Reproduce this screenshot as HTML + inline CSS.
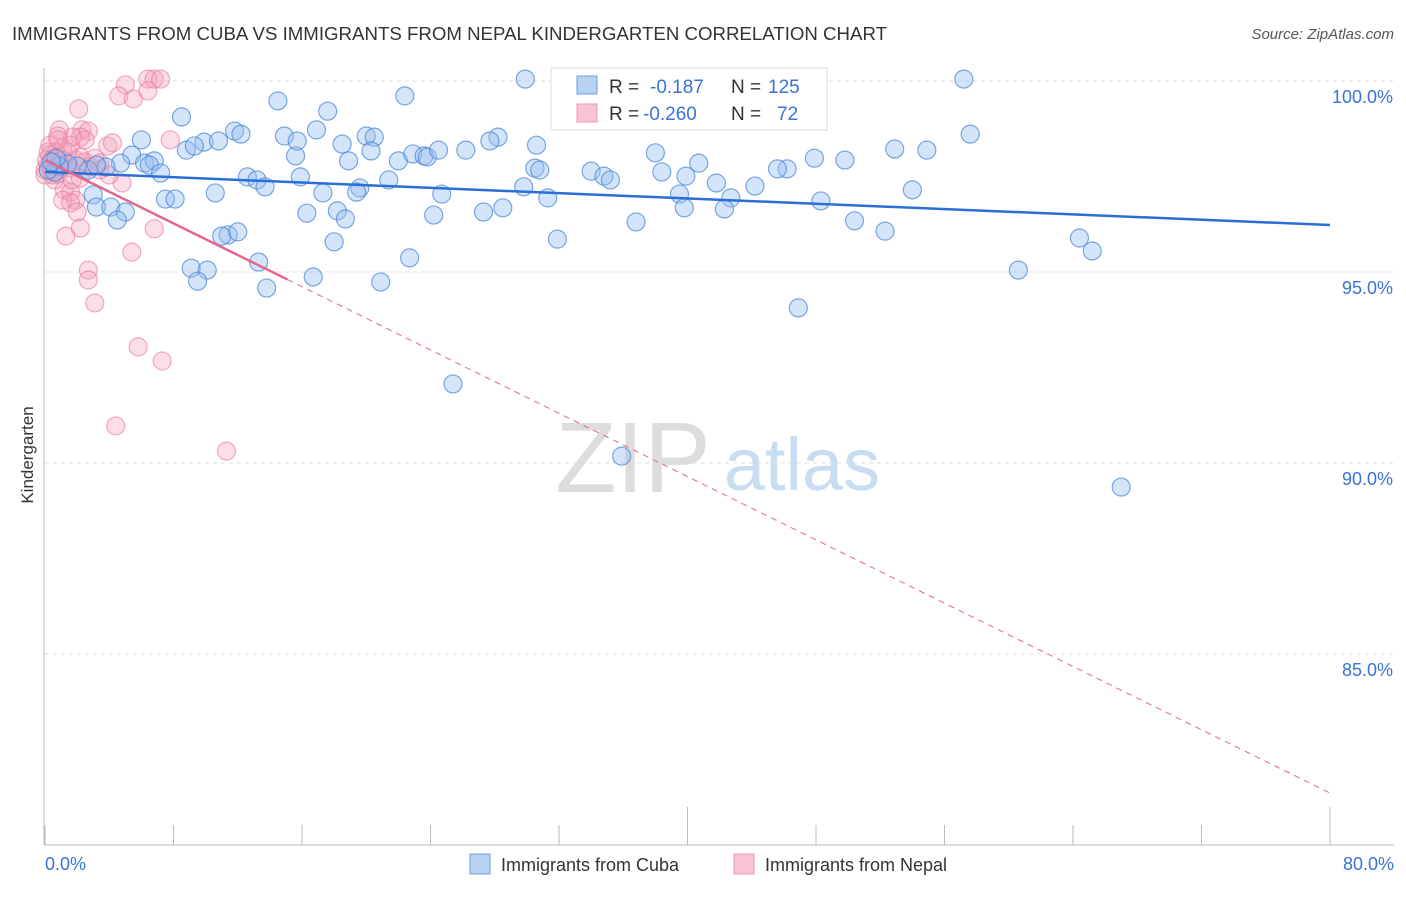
<!DOCTYPE html>
<html><head><meta charset="utf-8"><style>
body{margin:0;background:#fff;font-family:"Liberation Sans",sans-serif;}
svg text{font-family:"Liberation Sans",sans-serif;}
</style></head><body>
<svg id="chart" width="1406" height="892">
<text x="12" y="40" font-size="18.5" fill="#333" textLength="875" lengthAdjust="spacingAndGlyphs">IMMIGRANTS FROM CUBA VS IMMIGRANTS FROM NEPAL KINDERGARTEN CORRELATION CHART</text>
<text x="1394" y="39" font-size="15" fill="#555" font-style="italic" text-anchor="end">Source: ZipAtlas.com</text>
<text x="33" y="455" font-size="17" fill="#333" transform="rotate(-90 33 455)" text-anchor="middle">Kindergarten</text>
<g><text x="633" y="492" font-size="100" font-family="Liberation Serif,serif" fill="#ddd" text-anchor="middle">ZIP</text><text x="802" y="490" font-size="74" fill="#c8dcf2" text-anchor="middle">atlas</text></g>
<g id="grid"></g><g id="axes"></g><g id="marks"></g>
<g>
<rect x="551" y="68" width="276" height="62" fill="#fff" stroke="#ddd"/>
<rect x="577" y="76" width="20" height="18" fill="#b8d2f4" stroke="#6f9ee0"/>
<rect x="577" y="104" width="20" height="18" fill="#f8c4d3" stroke="#ee9ab3"/>
<text x="609" y="93" font-size="19" fill="#333">R =</text><text x="650" y="93" font-size="19" fill="#3a73d6">-0.187</text>
<text x="731" y="93" font-size="19" fill="#333">N =</text><text x="768" y="93" font-size="19" fill="#3a73d6">125</text>
<text x="609" y="120" font-size="19" fill="#333">R =</text><text x="643" y="120" font-size="19" fill="#3a73d6">-0.260</text>
<text x="731" y="120" font-size="19" fill="#333">N =</text><text x="777" y="120" font-size="19" fill="#3a73d6">72</text>
</g>
<g>
<rect x="470" y="854" width="20" height="20" fill="#b8d2f4" stroke="#6f9ee0"/>
<text x="501" y="871" font-size="18" fill="#333">Immigrants from Cuba</text>
<rect x="734" y="854" width="20" height="20" fill="#f8c4d3" stroke="#ee9ab3"/>
<text x="765" y="871" font-size="18" fill="#333">Immigrants from Nepal</text>
</g>
</svg>
<script>
const cubaX=[29.9,57.2,36.2,14.5,22.4,8.5,17.6,57.6,11.8,12.2,14.9,16.9,20.0,20.5,28.2,27.7,6.0,9.9,10.8,5.4,8.8,9.3,15.6,15.7,18.5,18.9,20.3,22.0,22.9,23.6,23.8,24.5,26.2,30.6,30.5,30.8,33.4,38.0,40.7,46.2,47.9,49.8,52.9,54.9,6.2,6.8,6.5,7.2,4.7,3.8,2.7,2.0,1.4,0.9,0.6,12.6,13.2,13.7,15.9,17.3,19.6,19.4,21.4,24.7,29.8,31.3,34.0,34.8,35.2,38.4,39.9,39.5,41.8,42.7,44.2,45.6,48.3,54.0,3.0,3.2,4.1,5.0,4.5,7.5,8.1,10.6,16.3,18.2,18.7,24.2,27.3,28.5,36.8,39.8,42.3,50.4,52.3,64.4,65.2,11.4,11.0,12.0,18.0,31.9,9.1,10.1,9.5,13.3,13.8,16.7,20.9,22.7,60.6,46.9,25.4,35.9,67.0,3.2,0.7,0.2,0.4];
const cubaY=[100.05,100.05,100.05,99.48,99.61,99.06,99.21,98.61,98.69,98.61,98.56,98.72,98.56,98.53,98.53,98.43,98.46,98.40,98.43,98.06,98.19,98.30,98.04,98.43,98.35,97.91,98.17,97.91,98.09,98.04,98.01,98.19,98.19,98.32,97.72,97.67,98.98,98.12,97.85,97.70,97.98,97.93,98.22,98.19,97.85,97.91,97.80,97.59,97.85,97.75,97.67,97.77,97.83,97.77,97.62,97.49,97.41,97.23,97.49,97.07,97.20,97.09,97.41,97.04,97.23,96.94,97.64,97.51,97.41,97.62,97.51,97.04,97.33,96.94,97.25,97.70,96.86,97.15,97.02,96.70,96.70,96.57,96.36,96.91,96.91,97.07,96.54,96.60,96.39,96.49,96.57,96.68,96.31,96.68,96.65,96.34,96.07,95.89,95.55,95.97,95.94,96.05,95.79,95.86,95.10,95.05,94.76,95.26,94.58,94.87,94.74,95.37,95.05,94.06,92.07,90.18,89.37,97.80,97.98,97.67,97.88];
const nepalX=[5.0,6.4,6.8,7.2,4.6,5.5,6.4,2.1,0.9,2.3,2.7,2.2,1.7,0.8,1.1,0.3,1.6,3.9,4.2,7.8,0.7,0.4,0.2,0.0,0.5,0.9,1.2,1.6,1.9,2.2,2.5,2.8,3.1,3.4,0.6,1.2,1.6,1.9,1.1,1.6,2.0,2.2,1.3,2.7,2.7,3.1,5.8,7.3,4.4,11.3,5.4,6.8,4.8,4.0,0.7,0.3,0.1,0.6,0.9,0.0,0.4,0.8,1.1,1.4,2.5,0.8,0.2,3.4,1.7,2.2];
const nepalY=[99.90,100.05,100.05,100.05,99.61,99.53,99.74,99.27,98.72,98.72,98.69,98.53,98.53,98.56,98.25,98.32,98.32,98.30,98.38,98.46,98.14,97.93,97.80,97.67,97.54,97.67,97.80,97.72,97.93,98.01,97.88,97.75,97.98,97.67,97.41,97.15,97.09,96.88,96.88,96.81,96.57,96.15,95.94,95.05,94.79,94.19,93.04,92.67,90.97,90.31,95.52,96.13,97.33,97.54,97.80,98.06,97.93,97.98,97.88,97.54,97.67,97.57,97.93,98.14,98.46,98.46,98.14,97.85,97.41,97.46];
const cubaTrend=[97.62,96.23];
const nepalTrend=[97.93,81.36];
const nepalSolidEnd=15.1;
const yTicks=[100,95,90,85];
const xTickVals=[0,8,16,24,32,40,48,56,64,72,80];

const NS='http://www.w3.org/2000/svg';
const X=v=>45+v/80*1285;
const Y=v=>81+(100-v)*38.2;
function mk(tag,attrs,parent){const e=document.createElementNS(NS,tag);for(const k in attrs)e.setAttribute(k,attrs[k]);parent.appendChild(e);return e;}
const grid=document.getElementById('grid'),axes=document.getElementById('axes'),marks=document.getElementById('marks');
yTicks.forEach(t=>{
  const l=mk('line',{x1:45,x2:1394,y1:Y(t),y2:Y(t),stroke:'#ddd','stroke-dasharray':'4,4'},grid);
  
  
  const tx=mk('text',{x:1393,y:Y(t)+22,'font-size':18,fill:'#3a73d6','text-anchor':'end'},axes);
  tx.textContent=t.toFixed(1)+'%';
  
  
});
mk('line',{x1:44,x2:44,y1:68,y2:845,stroke:'#bbb'},axes);
mk('line',{x1:44,x2:1394,y1:845,y2:845,stroke:'#bbb'},axes);
xTickVals.forEach((t,i)=>{
  const long=(i===5||i===10);
  const l=mk('line',{x1:X(t),x2:X(t),y1:long?807:825,y2:845,stroke:'#bbb'},axes);
  
  
});
const xl0=mk('text',{x:45,y:870,'font-size':18,fill:'#3a73d6'},axes);xl0.textContent='0.0%';


const xl1=mk('text',{x:1394,y:870,'font-size':18,fill:'#3a73d6','text-anchor':'end'},axes);xl1.textContent='80.0%';



nepalX.forEach((v,i)=>{
  const c=mk('circle',{cx:X(v),cy:Y(nepalY[i]),r:9,fill:'rgba(244,160,186,0.35)',stroke:'rgba(233,120,155,0.6)','stroke-width':1.2},marks);
  
  
});
cubaX.forEach((v,i)=>{
  const c=mk('circle',{cx:X(v),cy:Y(cubaY[i]),r:9,fill:'rgba(150,190,240,0.4)',stroke:'rgba(70,130,215,0.7)','stroke-width':1.2},marks);
  
  
});
const ny=x=>nepalTrend[0]+(nepalTrend[1]-nepalTrend[0])*x/80;
const t1=mk('line',{x1:X(0),y1:Y(cubaTrend[0]),x2:X(80),y2:Y(cubaTrend[1]),stroke:'#2a6fd6','stroke-width':2.5},marks);


const t2=mk('line',{x1:X(0),y1:Y(ny(0)),x2:X(nepalSolidEnd),y2:Y(ny(nepalSolidEnd)),stroke:'#e4668c','stroke-width':2.5},marks);


const t3=mk('line',{x1:X(nepalSolidEnd),y1:Y(ny(nepalSolidEnd)),x2:X(80),y2:Y(ny(80)),stroke:'#e4668c','stroke-width':1,'stroke-dasharray':'6,5'},marks);


</script>
</body></html>
